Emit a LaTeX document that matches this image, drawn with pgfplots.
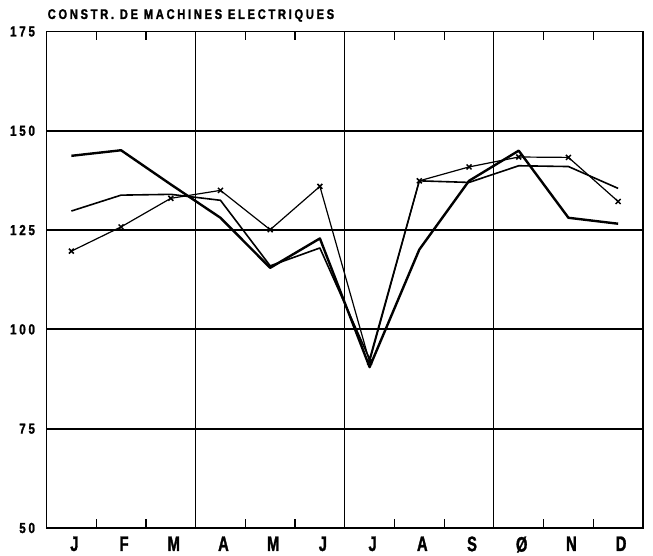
\documentclass[border=0pt]{standalone}
\usepackage{fontspec}
\usepackage{pgfplots}
\pgfplotsset{compat=1.18}
\newfontfamily\plotsans{Liberation Sans Bold}[FakeStretch=0.8, LetterSpace=19, FakeBold=1.5]
\newfontfamily\plotnarrow{Liberation Sans Bold}[FakeStretch=0.7, FakeBold=1.5]

% monthly index, three series
\pgfplotstableread{
x    a      b      c
0.5  143.7  129.8  119.7
1.5  145.1  133.8  125.8
2.5  136.5  134.0  133.0
3.5  128.1  132.5  135.0
4.5  115.5  116.0  125.1
5.5  122.9  120.5  136.0
6.5  90.5   92.5   91.8
7.5  120.1  137.4  137.4
8.5  137.4  137.0  140.9
9.5  145.0  141.2  143.4
10.5 128.1  141.0  143.3
11.5 126.6  135.5  132.2
}\data

\begin{document}
\begin{tikzpicture}
\useasboundingbox (-46.5pt,-28pt) rectangle (606.5pt,528pt);
\begin{axis}[
  at={(0,0)}, anchor=south west,
  scale only axis,
  width=596.5pt, height=496.5pt,
  xmin=0, xmax=12, ymin=50, ymax=175,
  axis line style={line width=1.5pt},
  xtick={0.5,1.5,...,11.5},
  xticklabels={J,F,M,A,M,J,J,A,S,Ø,N,D},
  major x tick style={draw=none},
  minor xtick={1,2,4,5,7,8,10,11},
  minor tick length=9pt,
  minor x tick style={line width=1.2pt, black},
  tick align=inside,
  extra x ticks={3,6,9},
  extra x tick labels={},
  extra x tick style={grid=major, major tick length=0pt,
    major grid style={black, line width=1.2pt}},
  ytick={50,75,...,175},
  major y tick style={draw=none},
  ymajorgrids,
  y grid style={black, line width=1.8pt},
  /pgf/number format/assume math mode=true,
  yticklabel style={font=\plotsans\fontsize{14.5}{14.5}\selectfont, xshift=-8pt},
  xticklabel style={font=\plotnarrow\fontsize{21}{21}\selectfont, yshift=-5pt, xshift=3pt},
]
\addplot[black, line width=2.4pt, line join=round] table[x=x, y=a] {\data};
\addplot[black, line width=1.6pt, line join=round] table[x=x, y=b] {\data};
\addplot[black, line width=1.2pt, mark=x, mark size=3.5pt,
  mark options={line width=1.5pt}] table[x=x, y=c] {\data};
\end{axis}
\node[anchor=base west, inner sep=0pt, font=\plotsans\fontsize{14}{14}\selectfont]
  at (1pt,509pt) {CONSTR. DE MACHINES ELECTRIQUES};
\end{tikzpicture}
\end{document}
